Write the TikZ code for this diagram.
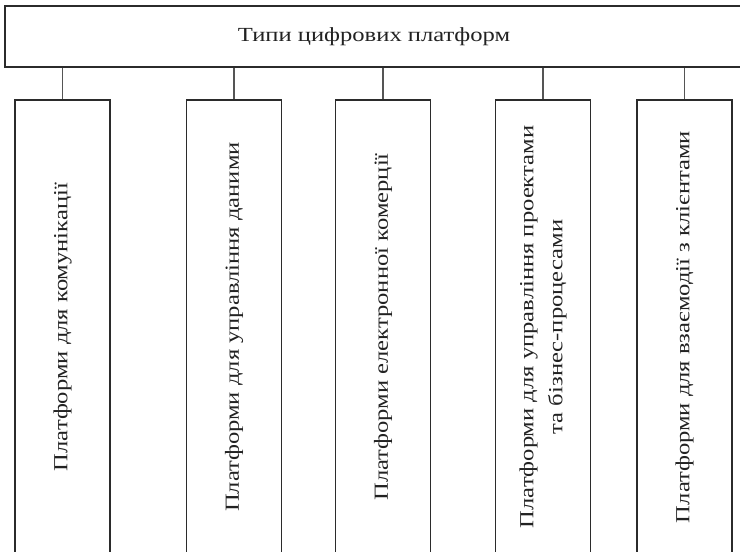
\documentclass[tikz,border=0pt]{standalone}
\usepackage{fontspec}
\setmainfont[FakeStretch=1.23]{Liberation Serif}
\definecolor{edge}{HTML}{2B2B2B}
\definecolor{conncol}{HTML}{555555}
\definecolor{txt}{HTML}{222222}
\begin{document}
\begin{tikzpicture}[x=1pt,y=-1pt,
  topbox/.style={draw=edge, line width=1.8pt, rectangle, minimum width=738pt, minimum height=61pt, inner sep=0pt, text=txt, font=\fontsize{20}{24}\selectfont},
  typebox/.style={draw=edge, line width=1.8pt, rectangle, rotate=90, minimum width=454pt, minimum height=95pt, inner sep=0pt, text=txt, align=center, font=\fontsize{20}{29}\selectfont},
  conn/.style={draw=conncol, line width=1.2pt}]
\useasboundingbox (0,0) rectangle (740,552);
\clip (0,0) rectangle (740,552);
\node[topbox] (top) at (374,36.5) {Типи цифрових платформ};
\node[typebox] (b1) at (62.5,327) {Платформи для комунікації};
\node[typebox] (b2) at (234,327) {Платформи для управління даними};
\node[typebox] (b3) at (383,327) {Платформи електронної комерції};
\node[typebox] (b4) at (543,327) {Платформи для управління проектами\\та бізнес-процесами};
\node[typebox] (b5) at (684.5,327) {Платформи для взаємодії з клієнтами};
\foreach \b in {b1,b2,b3,b4,b5}
  \draw[conn] (top.south -| \b.east) -- (\b.east);
\end{tikzpicture}
\end{document}
